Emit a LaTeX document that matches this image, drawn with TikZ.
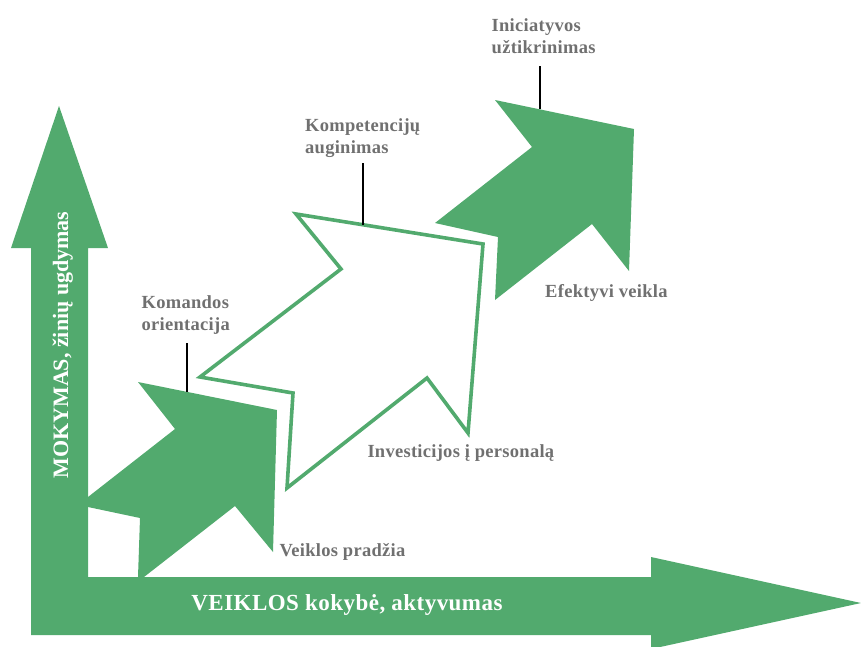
\documentclass[tikz,border=0pt]{standalone}
\usepackage{fontspec}
\setmainfont{Liberation Serif}
\definecolor{stepgreen}{RGB}{82,170,110}
\definecolor{labelgray}{RGB}{112,112,112}

\begin{document}
\begin{tikzpicture}[x=1pt,y=-1pt]

\tikzset{StepFill/.style={fill=stepgreen,draw=none}};
\tikzset{StepOpen/.style={draw=stepgreen,line width=3.6pt,fill=white,line join=miter}};
\tikzset{StepLabel/.style={text=labelgray,inner sep=0pt,anchor=base west,align=left,
  font=\fontsize{18.5}{22.3}\selectfont\bfseries\addfontfeature{LetterSpace=1.5}}};
\tikzset{AxisLabel/.style={text=white,inner sep=0pt,anchor=base,font=\bfseries}};
\tikzset{pin/.style={draw=black,line width=1.4pt}};

\useasboundingbox (0,0) rectangle (861,646);

\begin{scope}

% axes
\fill[stepgreen] (31,635) -- (31,248) -- (11,248) -- (59,106) -- (108,248) -- (88,248)
  -- (88,577) -- (651,577) -- (651,557) -- (861,603) -- (651,649) -- (651,635) -- cycle;
\node[AxisLabel,font=\fontsize{23}{26}\selectfont\bfseries\addfontfeature{LetterSpace=2}] (quality) at (347,610) {VEIKLOS kokybė, aktyvumas};
\node[AxisLabel,rotate=90,font=\fontsize{22}{25}\selectfont\bfseries] (learning) at (68,345) {MOKYMAS, žinių ugdymas};

% steps
\fill[stepgreen] (138,382) -- (277,410) -- (273,552) -- (235,506) -- (144,577) -- (138,577)
  -- (140,518) -- (88,507) -- (88,497) -- (175,429) -- cycle;
\draw[StepOpen] (296,214) -- (483,244) -- (468,433) -- (427,378) -- (287,488) -- (293,393)
  -- (200,377) -- (341,269) -- cycle;
\fill[stepgreen] (495,100) -- (634,129) -- (629,271) -- (592,224) -- (495,300) -- (498,237)
  -- (435,223) -- (532,147) -- cycle;

% labels (two-line ones sit on their last baseline)
\node[StepLabel] (team) at (141.5,330.6) {Komandos\\orientacija};
\node[StepLabel] (skills) at (305,153.3) {Kompetencijų\\auginimas};
\node[StepLabel] (initiative) at (491.5,53.3) {Iniciatyvos\\užtikrinimas};
\node[StepLabel] (start) at (279.3,556) {Veiklos pradžia};
\node[StepLabel] (invest) at (367.3,457.7) {Investicijos į personalą};
\node[StepLabel] (effective) at (545,297) {Efektyvi veikla};

\coordinate (teamTop) at (187,343);
\coordinate (teamPin) at (187,392);
\coordinate (skillsTop) at (363,163);
\coordinate (skillsPin) at (363,225);
\coordinate (initiativeTop) at (540,66);
\coordinate (initiativePin) at (540,109);

\draw[pin] (teamTop) -- (teamPin);
\draw[pin] (skillsTop) -- (skillsPin);
\draw[pin] (initiativeTop) -- (initiativePin);

\end{scope}

\end{tikzpicture}
\end{document}
